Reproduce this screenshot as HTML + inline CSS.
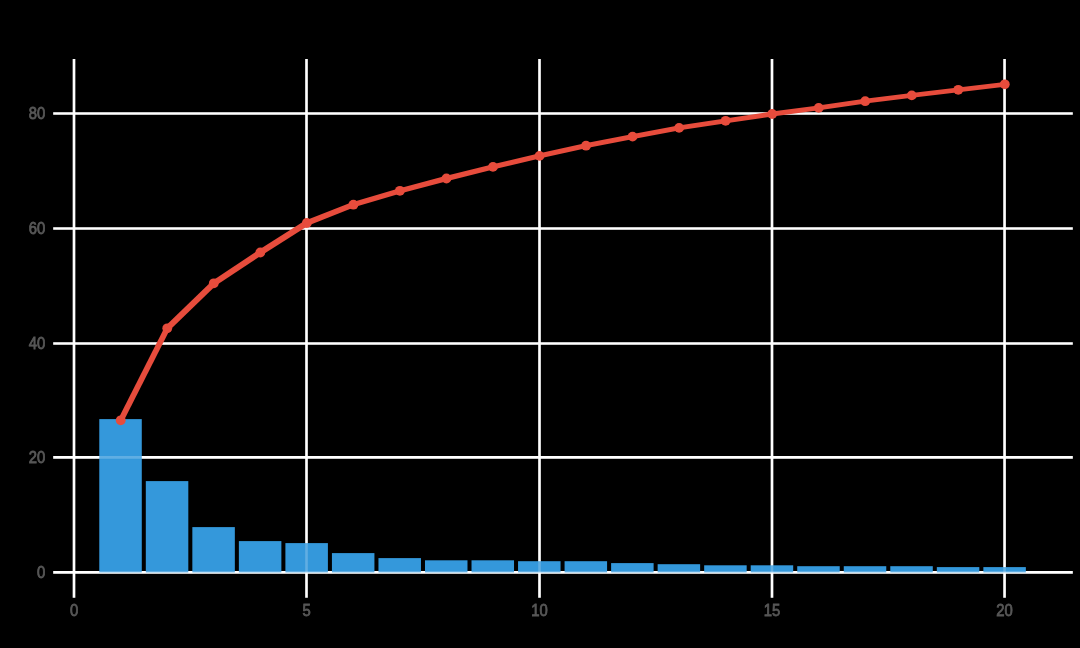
<!DOCTYPE html>
<html><head><meta charset="utf-8"><style>
html,body{margin:0;padding:0;background:#000;width:1080px;height:648px;overflow:hidden}
svg{display:block}
text{font-family:"Liberation Sans",sans-serif;font-size:16.5px}
</style></head><body>
<svg width="1080" height="648" viewBox="0 0 1080 648">
<g stroke="#fff" stroke-width="2.6">
<line x1="53.2" y1="572.40" x2="1072.8" y2="572.40"/>
<line x1="53.2" y1="457.40" x2="1072.8" y2="457.40"/>
<line x1="53.2" y1="343.50" x2="1072.8" y2="343.50"/>
<line x1="53.2" y1="228.50" x2="1072.8" y2="228.50"/>
<line x1="53.2" y1="113.50" x2="1072.8" y2="113.50"/>
<line x1="74.00" y1="58.9" x2="74.00" y2="597.8"/>
<line x1="306.50" y1="58.9" x2="306.50" y2="597.8"/>
<line x1="539.50" y1="58.9" x2="539.50" y2="597.8"/>
<line x1="772.00" y1="58.9" x2="772.00" y2="597.8"/>
<line x1="1004.55" y1="58.9" x2="1004.55" y2="597.8"/>
</g>
<g fill="#3498DB">
<rect x="99.28" y="419.10" width="42.5" height="153.30"/>
<rect x="145.81" y="481.10" width="42.5" height="91.30"/>
<rect x="192.34" y="527.10" width="42.5" height="45.30"/>
<rect x="238.87" y="541.10" width="42.5" height="31.30"/>
<rect x="285.40" y="543.10" width="42.5" height="29.30"/>
<rect x="331.93" y="553.10" width="42.5" height="19.30"/>
<rect x="378.46" y="558.10" width="42.5" height="14.30"/>
<rect x="424.99" y="560.30" width="42.5" height="12.10"/>
<rect x="471.52" y="560.30" width="42.5" height="12.10"/>
<rect x="518.05" y="561.20" width="42.5" height="11.20"/>
<rect x="564.58" y="561.20" width="42.5" height="11.20"/>
<rect x="611.11" y="563.10" width="42.5" height="9.30"/>
<rect x="657.64" y="564.20" width="42.5" height="8.20"/>
<rect x="704.17" y="565.30" width="42.5" height="7.10"/>
<rect x="750.70" y="565.30" width="42.5" height="7.10"/>
<rect x="797.23" y="566.20" width="42.5" height="6.20"/>
<rect x="843.76" y="566.20" width="42.5" height="6.20"/>
<rect x="890.29" y="566.20" width="42.5" height="6.20"/>
<rect x="936.82" y="567.10" width="42.5" height="5.30"/>
<rect x="983.35" y="567.10" width="42.5" height="5.30"/>
</g>
<g stroke="#fff" stroke-width="2.6" stroke-opacity="0.22">
<line x1="53.2" y1="572.40" x2="1072.8" y2="572.40"/>
<line x1="53.2" y1="457.40" x2="1072.8" y2="457.40"/>
<line x1="53.2" y1="343.50" x2="1072.8" y2="343.50"/>
<line x1="53.2" y1="228.50" x2="1072.8" y2="228.50"/>
<line x1="53.2" y1="113.50" x2="1072.8" y2="113.50"/>
<line x1="74.00" y1="58.9" x2="74.00" y2="597.8"/>
<line x1="306.50" y1="58.9" x2="306.50" y2="597.8"/>
<line x1="539.50" y1="58.9" x2="539.50" y2="597.8"/>
<line x1="772.00" y1="58.9" x2="772.00" y2="597.8"/>
<line x1="1004.55" y1="58.9" x2="1004.55" y2="597.8"/>
</g>
<g fill="#E74C3C">
<polygon points="118.58,418.15 165.11,326.15 169.41,326.15 169.41,330.45 122.88,422.45 118.58,422.45"/>
<polygon points="165.11,326.15 211.64,281.15 215.94,281.15 215.94,285.45 169.41,330.45 165.11,330.45"/>
<polygon points="211.64,281.15 258.17,250.35 262.47,250.35 262.47,254.65 215.94,285.45 211.64,285.45"/>
<polygon points="258.17,250.35 304.70,220.85 309.00,220.85 309.00,225.15 262.47,254.65 258.17,254.65"/>
<polygon points="304.70,220.85 351.23,202.55 355.53,202.55 355.53,206.85 309.00,225.15 304.70,225.15"/>
<polygon points="351.23,202.55 397.76,188.65 402.06,188.65 402.06,192.95 355.53,206.85 351.23,206.85"/>
<polygon points="397.76,188.65 444.29,176.35 448.59,176.35 448.59,180.65 402.06,192.95 397.76,192.95"/>
<polygon points="444.29,176.35 490.82,164.75 495.12,164.75 495.12,169.05 448.59,180.65 444.29,180.65"/>
<polygon points="490.82,164.75 537.35,153.75 541.65,153.75 541.65,158.05 495.12,169.05 490.82,169.05"/>
<polygon points="537.35,153.75 583.88,143.55 588.18,143.55 588.18,147.85 541.65,158.05 537.35,158.05"/>
<polygon points="583.88,143.55 630.41,134.45 634.71,134.45 634.71,138.75 588.18,147.85 583.88,147.85"/>
<polygon points="630.41,134.45 676.94,125.75 681.24,125.75 681.24,130.05 634.71,138.75 630.41,138.75"/>
<polygon points="676.94,125.75 723.47,118.65 727.77,118.65 727.77,122.95 681.24,130.05 676.94,130.05"/>
<polygon points="723.47,118.65 770.00,111.85 774.30,111.85 774.30,116.15 727.77,122.95 723.47,122.95"/>
<polygon points="770.00,111.85 816.53,105.75 820.83,105.75 820.83,110.05 774.30,116.15 770.00,116.15"/>
<polygon points="816.53,105.75 863.06,99.05 867.36,99.05 867.36,103.35 820.83,110.05 816.53,110.05"/>
<polygon points="863.06,99.05 909.59,93.25 913.89,93.25 913.89,97.55 867.36,103.35 863.06,103.35"/>
<polygon points="909.59,93.25 956.12,87.65 960.42,87.65 960.42,91.95 913.89,97.55 909.59,97.55"/>
<polygon points="956.12,87.65 1002.65,82.15 1006.95,82.15 1006.95,86.45 960.42,91.95 956.12,91.95"/>
</g>
<g fill="#E74C3C">
<circle cx="120.73" cy="420.30" r="4.9"/>
<circle cx="167.26" cy="328.30" r="4.9"/>
<circle cx="213.79" cy="283.30" r="4.9"/>
<circle cx="260.32" cy="252.50" r="4.9"/>
<circle cx="306.85" cy="223.00" r="4.9"/>
<circle cx="353.38" cy="204.70" r="4.9"/>
<circle cx="399.91" cy="190.80" r="4.9"/>
<circle cx="446.44" cy="178.50" r="4.9"/>
<circle cx="492.97" cy="166.90" r="4.9"/>
<circle cx="539.50" cy="155.90" r="4.9"/>
<circle cx="586.03" cy="145.70" r="4.9"/>
<circle cx="632.56" cy="136.60" r="4.9"/>
<circle cx="679.09" cy="127.90" r="4.9"/>
<circle cx="725.62" cy="120.80" r="4.9"/>
<circle cx="772.15" cy="114.00" r="4.9"/>
<circle cx="818.68" cy="107.90" r="4.9"/>
<circle cx="865.21" cy="101.20" r="4.9"/>
<circle cx="911.74" cy="95.40" r="4.9"/>
<circle cx="958.27" cy="89.80" r="4.9"/>
<circle cx="1004.80" cy="84.30" r="4.9"/>
</g>
<g opacity="0.99" fill="#595959" stroke="#595959" stroke-width="0.8">
<text transform="translate(45.2,578.20) scale(0.9,1)" text-anchor="end">0</text>
<text transform="translate(45.2,463.20) scale(0.9,1)" text-anchor="end">20</text>
<text transform="translate(45.2,349.30) scale(0.9,1)" text-anchor="end">40</text>
<text transform="translate(45.2,234.30) scale(0.9,1)" text-anchor="end">60</text>
<text transform="translate(45.2,119.30) scale(0.9,1)" text-anchor="end">80</text>
<text transform="translate(74.00,616.1) scale(0.9,1)" text-anchor="middle">0</text>
<text transform="translate(306.50,616.1) scale(0.9,1)" text-anchor="middle">5</text>
<text transform="translate(539.50,616.1) scale(0.9,1)" text-anchor="middle">10</text>
<text transform="translate(772.00,616.1) scale(0.9,1)" text-anchor="middle">15</text>
<text transform="translate(1004.55,616.1) scale(0.9,1)" text-anchor="middle">20</text>
</g>
</svg>
</body></html>
